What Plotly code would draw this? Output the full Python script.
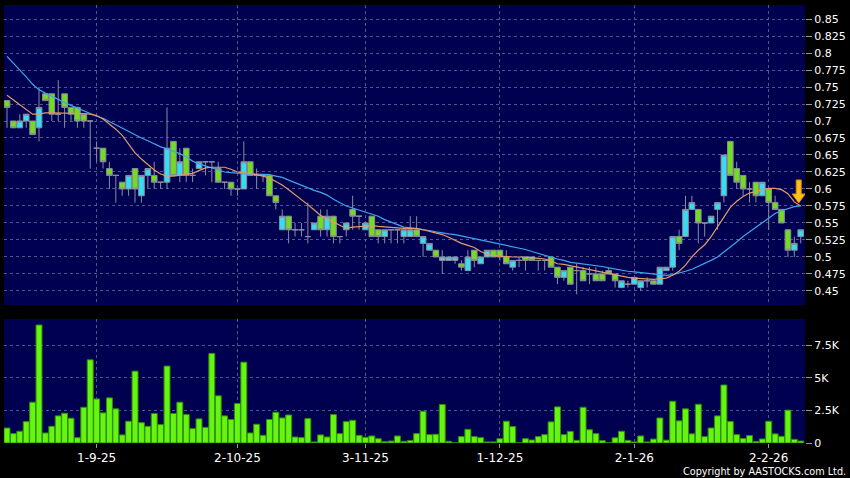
import plotly.graph_objects as go

# ---------------- data ----------------
idx = list(range(125))  # trading-day index, 12 Aug 2025 .. 9 Feb 2026

open_ = [0.73,0.70,0.69,0.70,0.70,0.69,0.74,0.74,0.71,0.74,
         0.72,0.72,0.71,0.70,0.66,0.66,0.63,0.62,0.61,0.60,
         0.63,0.59,0.62,0.62,0.61,0.61,0.67,0.62,0.66,0.62,
         0.63,0.64,0.64,0.63,0.61,0.61,0.60,0.60,0.64,0.62,
         0.62,0.62,0.59,0.54,0.56,0.54,0.54,0.53,0.54,0.56,
         0.54,0.56,0.53,0.54,0.57,0.56,0.54,0.56,0.54,0.53,
         0.54,0.54,0.53,0.53,0.54,0.52,0.51,0.51,0.495,0.495,
         0.495,0.49,0.48,0.51,0.49,0.50,0.51,0.51,0.50,0.485,
         0.495,0.50,0.50,0.495,0.495,0.50,0.485,0.47,0.485,0.48,
         0.48,0.475,0.475,0.475,0.48,0.475,0.455,0.46,0.46,0.455,
         0.465,0.465,0.46,0.48,0.485,0.53,0.53,0.57,0.57,0.55,
         0.55,0.57,0.59,0.67,0.63,0.62,0.60,0.61,0.59,0.60,
         0.58,0.57,0.54,0.51,0.53]

high = [0.73,0.70,0.71,0.71,0.70,0.75,0.74,0.74,0.76,0.74,
        0.72,0.72,0.71,0.70,0.67,0.66,0.64,0.62,0.61,0.62,
        0.63,0.62,0.63,0.64,0.61,0.72,0.67,0.66,0.66,0.63,
        0.64,0.64,0.64,0.64,0.61,0.61,0.60,0.67,0.64,0.63,
        0.62,0.62,0.59,0.57,0.56,0.55,0.55,0.58,0.55,0.57,
        0.57,0.56,0.53,0.55,0.59,0.56,0.55,0.56,0.54,0.54,
        0.54,0.54,0.54,0.56,0.56,0.53,0.52,0.51,0.51,0.50,
        0.50,0.495,0.51,0.51,0.50,0.51,0.51,0.51,0.51,0.495,
        0.50,0.50,0.50,0.495,0.495,0.50,0.485,0.48,0.485,0.49,
        0.485,0.485,0.485,0.48,0.485,0.475,0.465,0.465,0.47,0.465,
        0.47,0.465,0.485,0.485,0.53,0.54,0.59,0.59,0.57,0.55,
        0.56,0.58,0.65,0.67,0.64,0.62,0.61,0.61,0.61,0.60,
        0.59,0.57,0.54,0.53,0.54]

low = [0.69,0.69,0.69,0.69,0.68,0.67,0.73,0.70,0.70,0.69,
       0.70,0.69,0.69,0.63,0.64,0.63,0.60,0.58,0.59,0.59,
       0.58,0.58,0.60,0.60,0.60,0.60,0.62,0.61,0.61,0.61,
       0.63,0.62,0.61,0.61,0.60,0.59,0.59,0.60,0.62,0.60,
       0.61,0.59,0.57,0.54,0.52,0.53,0.53,0.52,0.54,0.53,
       0.53,0.52,0.52,0.53,0.54,0.54,0.54,0.53,0.52,0.52,
       0.52,0.52,0.52,0.53,0.53,0.50,0.51,0.50,0.475,0.495,
       0.49,0.48,0.48,0.485,0.49,0.50,0.50,0.495,0.49,0.48,
       0.485,0.48,0.495,0.48,0.48,0.485,0.46,0.465,0.46,0.445,
       0.465,0.46,0.465,0.465,0.475,0.455,0.455,0.455,0.46,0.45,
       0.455,0.46,0.46,0.48,0.48,0.51,0.53,0.57,0.52,0.53,
       0.55,0.54,0.58,0.62,0.60,0.59,0.58,0.58,0.59,0.54,
       0.57,0.55,0.50,0.50,0.52]

close = [0.72,0.69,0.70,0.71,0.68,0.72,0.73,0.71,0.71,0.72,
         0.71,0.70,0.70,0.70,0.66,0.64,0.62,0.62,0.60,0.62,
         0.60,0.62,0.63,0.61,0.61,0.66,0.62,0.64,0.62,0.62,
         0.64,0.64,0.64,0.61,0.61,0.60,0.60,0.64,0.62,0.62,
         0.62,0.59,0.58,0.56,0.54,0.54,0.54,0.53,0.55,0.54,
         0.56,0.53,0.53,0.55,0.56,0.56,0.55,0.53,0.53,0.54,
         0.54,0.54,0.54,0.54,0.53,0.53,0.52,0.50,0.50,0.50,
         0.50,0.485,0.50,0.495,0.50,0.51,0.50,0.50,0.49,0.495,
         0.495,0.495,0.495,0.495,0.495,0.485,0.47,0.48,0.46,0.48,
         0.465,0.475,0.465,0.465,0.475,0.465,0.465,0.46,0.47,0.465,
         0.465,0.46,0.485,0.485,0.53,0.52,0.57,0.58,0.55,0.55,
         0.56,0.58,0.65,0.62,0.61,0.60,0.60,0.59,0.61,0.58,
         0.57,0.55,0.51,0.52,0.54]

volume = [1150,720,900,1640,3130,9050,770,1280,2080,2280,
          1900,410,2740,6380,3380,2310,3460,2620,620,1670,
          5510,1560,1280,2260,1410,5900,2260,3130,2180,1100,
          1850,1200,6870,3620,2080,1800,3030,6200,770,1440,
          590,1800,2360,1920,2150,460,410,1870,80,620,
          460,2180,720,1640,1740,590,440,540,330,100,
          150,540,130,200,720,2440,640,670,2950,130,
          20,490,1050,490,410,80,80,330,1670,1260,
          20,330,230,490,640,1620,2770,640,890,200,
          2740,1020,720,180,20,400,900,200,80,540,
          80,300,1920,220,3200,1700,2620,700,2970,490,
          1150,2080,4450,1650,640,340,570,120,310,1670,
          700,510,2520,280,150]

ma_short = [0.738,0.731,0.725,0.717,0.710,0.710,0.712,0.712,0.712,0.712,
            0.712,0.712,0.711,0.710,0.708,0.703,0.696,0.688,0.679,0.666,
            0.653,0.644,0.636,0.628,0.622,0.619,0.619,0.620,0.621,0.623,
            0.627,0.631,0.632,0.632,0.632,0.629,0.625,0.624,0.623,0.621,
            0.619,0.616,0.611,0.606,0.599,0.592,0.585,0.577,0.569,0.561,
            0.556,0.551,0.547,0.542,0.544,0.545,0.546,0.546,0.545,0.544,
            0.543,0.542,0.542,0.542,0.542,0.540,0.538,0.536,0.533,0.529,
            0.524,0.520,0.517,0.514,0.508,0.504,0.502,0.501,0.500,0.500,
            0.500,0.500,0.499,0.498,0.497,0.494,0.490,0.489,0.487,0.485,
            0.483,0.481,0.479,0.477,0.475,0.473,0.472,0.470,0.469,0.468,
            0.468,0.467,0.468,0.469,0.473,0.479,0.488,0.500,0.510,0.518,
            0.530,0.544,0.558,0.573,0.582,0.589,0.594,0.597,0.599,0.601,
            0.601,0.599,0.593,0.581,0.575]

ma_long = [0.795,0.785,0.776,0.765,0.754,0.746,0.741,0.736,0.731,0.727,
           0.723,0.719,0.714,0.710,0.707,0.704,0.699,0.694,0.690,0.685,
           0.680,0.675,0.671,0.666,0.662,0.659,0.656,0.652,0.647,0.641,
           0.637,0.634,0.630,0.627,0.625,0.624,0.623,0.623,0.622,0.622,
           0.622,0.621,0.619,0.617,0.613,0.609,0.605,0.602,0.598,0.595,
           0.591,0.585,0.580,0.575,0.572,0.569,0.567,0.564,0.560,0.555,
           0.551,0.547,0.544,0.543,0.542,0.541,0.539,0.537,0.535,0.534,
           0.533,0.531,0.529,0.527,0.525,0.523,0.522,0.520,0.518,0.516,
           0.514,0.511,0.508,0.505,0.502,0.499,0.497,0.495,0.492,0.491,
           0.490,0.488,0.487,0.486,0.484,0.482,0.481,0.479,0.478,0.477,
           0.476,0.475,0.473,0.473,0.474,0.476,0.479,0.482,0.486,0.491,
           0.495,0.500,0.507,0.515,0.522,0.530,0.537,0.544,0.551,0.558,
           0.564,0.568,0.571,0.574,0.575]

date_tick_idx = [14, 36, 56, 77, 98, 119]
date_tick_labels = ["1-9-25", "2-10-25", "3-11-25", "1-12-25", "2-1-26", "2-2-26"]

price_tick_vals = [0.45, 0.475, 0.5, 0.525, 0.55, 0.575, 0.6, 0.625, 0.65,
                   0.675, 0.7, 0.725, 0.75, 0.775, 0.8, 0.825, 0.85]
price_tick_text = ["0.45", "0.475", "0.5", "0.525", "0.55", "0.575", "0.6", "0.625", "0.65",
                   "0.675", "0.7", "0.725", "0.75", "0.775", "0.8", "0.825", "0.85"]

vol_tick_vals = [0, 2500, 5000, 7500]
vol_tick_text = ["0", "2.5K", "5K", "7.5K"]

# ---------------- styling ----------------
BG = "#000050"
GRID = "#55558a"
CYAN = "#36dcef"
GREEN = "#72dc1e"
LIME = "#66f512"
LIME_EDGE = "#2f8f00"
OUTLINE = "#8c8c9c"
ORANGE = "#e39a6a"
BLUE = "#3fa6ee"
FONT = "DejaVu Sans"

fig = go.Figure()

fig.add_trace(go.Candlestick(
    x=idx, open=open_, high=high, low=low, close=close,
    increasing=dict(fillcolor=CYAN, line=dict(color=OUTLINE, width=1)),
    decreasing=dict(fillcolor=GREEN, line=dict(color=OUTLINE, width=1)),
    whiskerwidth=0, xaxis="x", yaxis="y", hoverinfo="skip"))

fig.add_trace(go.Scatter(x=idx, y=ma_long, mode="lines",
                         line=dict(color=BLUE, width=1.2), xaxis="x", yaxis="y",
                         hoverinfo="skip"))
fig.add_trace(go.Scatter(x=idx, y=ma_short, mode="lines",
                         line=dict(color=ORANGE, width=1.2), xaxis="x", yaxis="y",
                         hoverinfo="skip"))

fig.add_trace(go.Bar(x=idx, y=volume, xaxis="x2", yaxis="y2",
                     marker=dict(color=LIME, line=dict(color=LIME_EDGE, width=1)),
                     hoverinfo="skip"))

x_range = [-0.47, 124.67]
grid_common = dict(showgrid=True, gridcolor=GRID, gridwidth=1, griddash="3px,3px",
                   zeroline=False, showline=False)

fig.update_layout(
    width=850, height=478,
    margin=dict(l=4, r=42, t=5, b=35),
    paper_bgcolor="black", plot_bgcolor=BG,
    showlegend=False, bargap=0.07, boxgap=0.12, boxgroupgap=0,
    font=dict(family=FONT, color="white", size=11),
    xaxis=dict(domain=[0, 1], anchor="y", range=x_range, tickvals=date_tick_idx,
               showticklabels=False, ticks="", rangeslider=dict(visible=False),
               **grid_common),
    xaxis2=dict(domain=[0, 1], anchor="y2", range=x_range, tickvals=date_tick_idx,
                ticktext=date_tick_labels, ticks="outside", ticklen=4,
                tickcolor="#9a9a9a", tickfont=dict(size=12, color="white", family=FONT),
                rangeslider=dict(visible=False), **grid_common),
    yaxis=dict(domain=[0.3151, 1], anchor="x", range=[0.4294, 0.8706], side="right",
               tickvals=price_tick_vals, ticktext=price_tick_text,
               ticks="outside", ticklen=6, tickcolor="#9a9a9a",
               tickfont=dict(size=11, color="white", family=FONT), **grid_common),
    yaxis2=dict(domain=[0, 0.2831], anchor="x2", range=[0, 9510], side="right",
                tickvals=vol_tick_vals, ticktext=vol_tick_text,
                ticks="outside", ticklen=6, tickcolor="#9a9a9a",
                tickfont=dict(size=11, color="white", family=FONT), **grid_common),
)

# signal arrow at the end of the moving averages
fig.add_shape(type="path", xref="x", yref="y", xsizemode="pixel", ysizemode="pixel",
              xanchor=idx[-1], yanchor=ma_long[-1],
              path="M -2,3 L -8.5,12 L -4.5,12 L -4.5,26 L 0.5,26 L 0.5,12 L 4.5,12 Z",
              fillcolor="#ffc21a", line=dict(color="#e08a00", width=1), layer="above")

fig.add_annotation(text="Copyright by AASTOCKS.com Ltd.", xref="paper", yref="paper",
                   x=1.054, y=-0.066, xanchor="right", yanchor="middle", showarrow=False,
                   font=dict(size=9.7, color="white", family=FONT))

fig.write_html("out.html", config={"displayModeBar": False},
               post_script="document.body.style.margin='0';document.body.style.overflow='hidden';")
